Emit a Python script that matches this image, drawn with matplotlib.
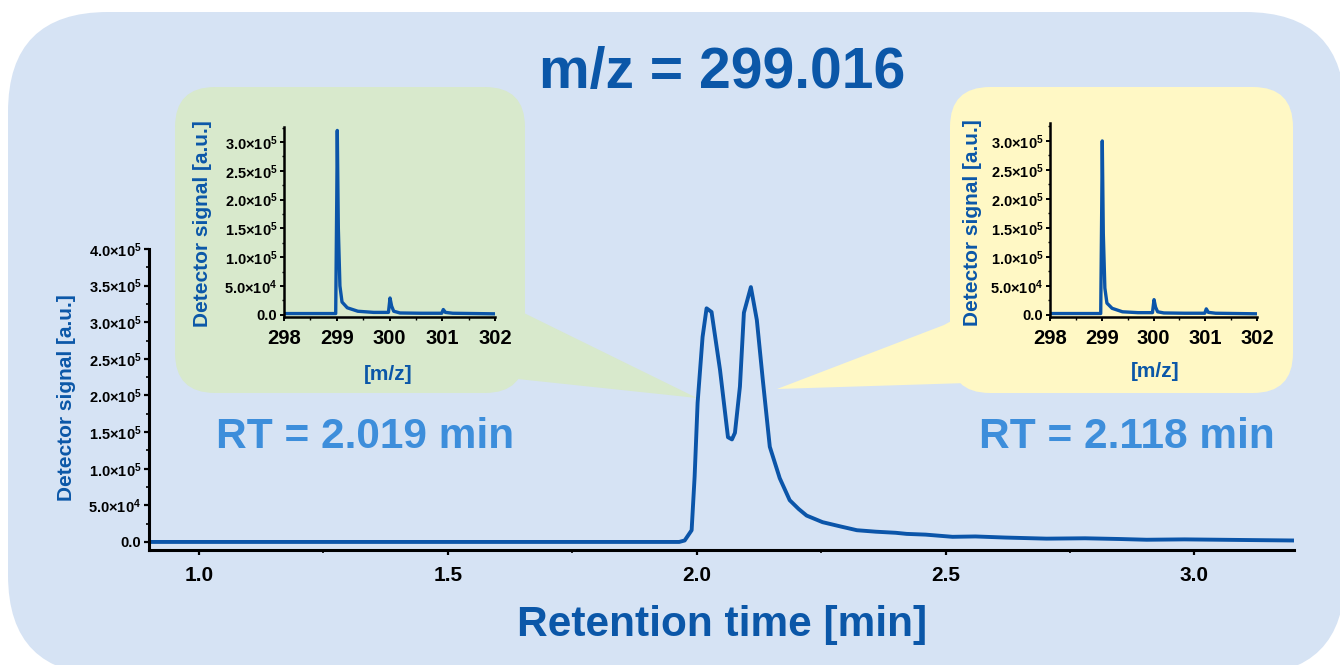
import numpy as np
import matplotlib
matplotlib.use("Agg")
import matplotlib.pyplot as plt
from matplotlib.patches import FancyBboxPatch, Polygon
from matplotlib.ticker import MultipleLocator, FuncFormatter

plt.rcParams['font.family'] = ['Liberation Sans', 'DejaVu Sans']
plt.rcParams['font.weight'] = 'bold'
plt.rcParams['mathtext.fontset'] = 'custom'
plt.rcParams['mathtext.bf'] = 'Liberation Sans:bold'
plt.rcParams['mathtext.rm'] = 'Liberation Sans:bold'
plt.rcParams['mathtext.default'] = 'bf'

# chromatogram, m/z 299.016
rt = [0.90, 1.20, 1.50, 1.80, 1.965, 1.976, 1.990, 1.996, 2.002, 2.012,
      2.020, 2.030, 2.047, 2.063, 2.071, 2.077, 2.087, 2.095, 2.109, 2.121,
      2.133, 2.147, 2.167, 2.187, 2.205, 2.221, 2.253, 2.290, 2.322, 2.360,
      2.400, 2.422, 2.460, 2.514, 2.560, 2.620, 2.703, 2.780, 2.850, 2.904,
      2.980, 3.050, 3.120, 3.197]
signal = [0, 0, 0, 0, 0, 2e3, 1.6e4, 8.9e4, 1.9e5, 2.8e5,
          3.19e5, 3.14e5, 2.35e5, 1.43e5, 1.40e5, 1.49e5, 2.12e5, 3.13e5, 3.48e5, 3.03e5,
          2.21e5, 1.30e5, 8.7e4, 5.7e4, 4.5e4, 3.6e4, 2.7e4, 2.1e4, 1.6e4, 1.4e4,
          1.25e4, 1.1e4, 1.0e4, 7e3, 7.5e3, 6e3, 4.5e3, 5e3, 4e3, 3e3,
          3.5e3, 3e3, 2.5e3, 2e3]

# mass spectra at the two retention times
mz_a = [298.0, 298.5, 298.98, 299.00, 299.01, 299.03, 299.06, 299.10, 299.20, 299.40,
        299.70, 299.98, 300.01, 300.04, 300.08, 300.20, 300.60, 300.99, 301.02, 301.06,
        301.20, 301.60, 302.0]
sig_a = [2e3, 2e3, 2e3, 2.0e5, 3.2e5, 1.5e5, 5e4, 2.2e4, 1.2e4, 6e3,
         4e3, 4e3, 2.9e4, 1.5e4, 6e3, 3e3, 2.5e3, 2.5e3, 9e3, 4e3,
         2.5e3, 2e3, 1.5e3]
mz_b = mz_a
sig_b = [2e3, 2e3, 2e3, 1.9e5, 3.0e5, 1.4e5, 4.6e4, 2.0e4, 1.1e4, 5e3,
         3.5e3, 3.5e3, 2.6e4, 1.3e4, 5e3, 3e3, 2.5e3, 2.5e3, 1.0e4, 4e3,
         2.5e3, 2e3, 1.5e3]

title = 'm/z = 299.016'
rt_labels = ['RT = 2.019 min', 'RT = 2.118 min']

bg_col = '#D6E3F4'
green = '#D8E9CC'
yellow = '#FFF8C5'
line_col = '#0B55A9'
dark_blue = '#0B57A8'
light_blue = '#3D8EDB'

W, H = 1340, 665
fig = plt.figure(figsize=(W / 100, H / 100), dpi=100)

# background shapes, drawn in pixel coordinates
bg = fig.add_axes([0, 0, 1, 1], zorder=0)
bg.set_xlim(0, W)
bg.set_ylim(H, 0)
bg.axis('off')
bg.add_patch(FancyBboxPatch((8, 12), 1337, 663, boxstyle='round,pad=0,rounding_size=100',
                            fc=bg_col, ec='none'))
bg.add_patch(FancyBboxPatch((175, 87), 350, 306, boxstyle='round,pad=0,rounding_size=40',
                            fc=green, ec='none'))
bg.add_patch(Polygon([(480, 300), (524, 313), (697, 398), (508, 378), (480, 385)],
                     closed=True, fc=green, ec='none'))
bg.add_patch(FancyBboxPatch((950, 87), 343, 306, boxstyle='round,pad=0,rounding_size=40',
                            fc=yellow, ec='none'))
bg.add_patch(Polygon([(990, 300), (944, 325), (777, 389), (967, 383), (990, 385)],
                     closed=True, fc=yellow, ec='none'))


def sci_fmt(v, pos):
    if v < 0:
        return ''
    if v < 1:
        return '0.0'
    e = int(np.floor(np.log10(v)))
    m = v / 10 ** e
    return f'{m:.1f}×10$^{{{e}}}$'


def px2pt(p):
    return p * 72 / 100


# main chromatogram
ax = fig.add_axes([149 / W, 1 - 550 / H, 1145 / W, 301 / H], zorder=1)
ax.patch.set_alpha(0)
ax.plot(rt, signal, color=line_col, lw=2.8, solid_joinstyle='round')
ax.set_xlim(0.9, 3.2)
ax.set_ylim(-1.1e4, 4.0e5)
ax.xaxis.set_major_locator(MultipleLocator(0.5))
ax.xaxis.set_minor_locator(MultipleLocator(0.25))
ax.yaxis.set_major_locator(MultipleLocator(5e4))
ax.yaxis.set_minor_locator(MultipleLocator(2.5e4))
ax.yaxis.set_major_formatter(FuncFormatter(sci_fmt))
ax.xaxis.set_major_formatter(FuncFormatter(lambda v, p: f'{v:.1f}'))
for s in ['top', 'right']:
    ax.spines[s].set_visible(False)
for s in ['left', 'bottom']:
    ax.spines[s].set_linewidth(2.2)
ax.tick_params(axis='y', which='major', length=px2pt(5), width=1.6, labelsize=10.5, pad=2)
ax.tick_params(axis='y', which='minor', length=px2pt(3), width=1.2)
ax.tick_params(axis='x', which='major', length=px2pt(5), width=1.6, labelsize=15, pad=8)
ax.tick_params(axis='x', which='minor', length=px2pt(3), width=1.2)
fig.text(67 / W, 1 - 398 / H, 'Detector signal [a.u.]', rotation=90, ha='center', va='center',
         fontsize=15, color=dark_blue, fontweight='bold')
fig.text(722 / W, 1 - 625 / H, 'Retention time [min]', ha='center', va='center',
         fontsize=30.5, color=dark_blue, fontweight='bold')
fig.text(722 / W, 1 - 73 / H, title, ha='center', va='center',
         fontsize=41, color=dark_blue, fontweight='bold')
fig.text(365 / W, 1 - 437 / H, rt_labels[0], ha='center', va='center',
         fontsize=30.5, color=light_blue, fontweight='bold')
fig.text(1127 / W, 1 - 437 / H, rt_labels[1], ha='center', va='center',
         fontsize=30.5, color=light_blue, fontweight='bold')


def inset(rect, mz, sig, ytop, ylab_x, ylab_y, xlab_x, xlab_y):
    a = fig.add_axes(rect, zorder=2)
    a.patch.set_alpha(0)
    a.plot(mz, sig, color=line_col, lw=2.4, solid_joinstyle='round')
    a.set_xlim(298, 302)
    a.set_ylim(-4e3, ytop)
    a.xaxis.set_major_locator(MultipleLocator(1))
    a.xaxis.set_minor_locator(MultipleLocator(0.5))
    a.yaxis.set_major_locator(MultipleLocator(5e4))
    a.yaxis.set_minor_locator(MultipleLocator(2.5e4))
    a.yaxis.set_major_formatter(FuncFormatter(sci_fmt))
    for s in ['top', 'right']:
        a.spines[s].set_visible(False)
    for s in ['left', 'bottom']:
        a.spines[s].set_linewidth(1.8)
    a.tick_params(axis='y', which='major', length=px2pt(4), width=1.4, labelsize=10.5, pad=2)
    a.tick_params(axis='y', which='minor', length=px2pt(2.5), width=1.0)
    a.tick_params(axis='x', which='major', length=px2pt(4), width=1.4, labelsize=14.5, pad=6)
    a.tick_params(axis='x', which='minor', length=px2pt(2.5), width=1.0)
    fig.text(ylab_x / W, 1 - ylab_y / H, 'Detector signal [a.u.]', rotation=90, ha='center',
             va='center', fontsize=15, color=dark_blue, fontweight='bold')
    fig.text(xlab_x / W, 1 - xlab_y / H, '[m/z]', ha='center', va='center',
             fontsize=15, color=dark_blue, fontweight='bold')
    return a


inset([284 / W, 1 - 317 / H, 211 / W, 190 / H], mz_a, sig_a, 3.26e5, 202, 224, 388, 375)
inset([1050 / W, 1 - 317 / H, 207 / W, 194 / H], mz_b, sig_b, 3.31e5, 972, 223, 1155, 372)

fig.savefig('out.png', dpi=100, facecolor='white')
